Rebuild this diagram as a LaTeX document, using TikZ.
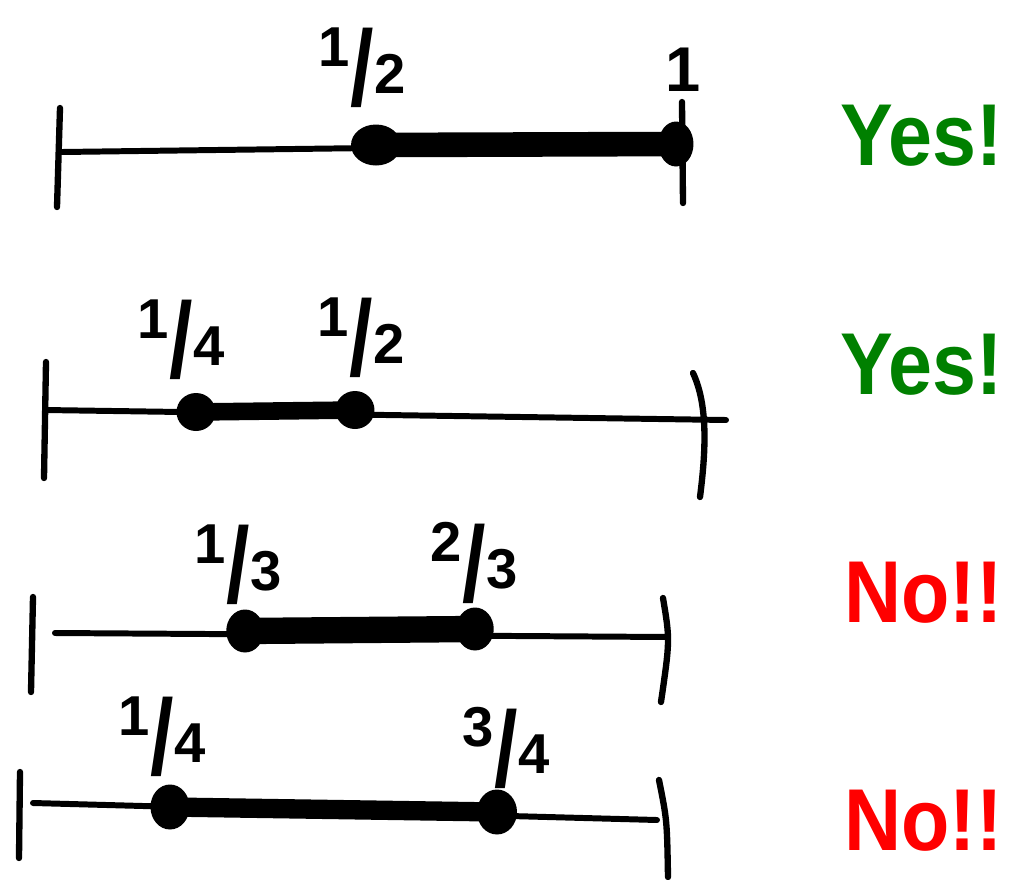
\documentclass[tikz,border=0pt]{standalone}
\usepackage{graphicx}
\usepackage{fontspec}
\setmainfont{Liberation Sans}
\usepackage{tikz}
\usetikzlibrary{shapes.geometric, positioning}
\definecolor{cYes}{RGB}{0,128,0}
\definecolor{cNo}{RGB}{255,0,0}
\newcommand{\slfrac}[2]{\raisebox{0.42em}{#1}\kern0.01em\raisebox{-0.28em}{\scalebox{1.5}[1.9]{/}}\kern0.01em\raisebox{-0.05em}{#2}}
\tikzset{
	axis/.style     ={line width=3.4pt, line cap=round},
	tickmark/.style ={line width=3.6pt, line cap=round},
	span/.style     ={line width=#1, line cap=round},
	dotpt/.style 2 args={ellipse, fill=black, inner sep=0pt, minimum width=#1, minimum height=#2},
	frac/.style     ={font=\bfseries\fontsize{32}{36}\selectfont, inner sep=0pt},
	verdict/.style  ={font=\bfseries\fontsize{50}{56}\selectfont, anchor=base east, inner sep=0pt},
}

\begin{document}
\begin{tikzpicture}[x=0.02cm, y=-0.02cm]
	\useasboundingbox (0,0) rectangle (1009,880);
	% row 1: from 1/2 to 1
	\coordinate (a1) at (62,152);
	\coordinate (b1) at (680,144);
	\draw[tickmark] (60,108) -- (57,207);
	\draw[tickmark] (682,102) -- (683,203);
	\draw[axis] (a1) -- (b1);
	\node[dotpt={1.0cm}{0.82cm}] (p1) at (376,145) {};
	\node[dotpt={0.7cm}{0.9cm}] (q1) at (676,144) {};
	\draw[span=14pt] (p1.center) -- (q1.center);
	\node[frac] (l1p) at (362,68) {\slfrac{1}{2}};
	\node[frac, font=\bfseries\fontsize{36}{40}\selectfont] (l1q) at (683,70) {1};
	\node[verdict, text=cYes] (v1) at (1003,165) {\scalebox{0.9}[1]{Yes!}};
	% row 2: from 1/4 to 1/2
	\coordinate (a2) at (45,410);
	\coordinate (b2) at (726,420);
	\draw[tickmark] (46,362) -- (44,478);
	\draw[tickmark] (693,373) .. controls (708,405) and (706,450) .. (700,497);
	\draw[axis] (a2) -- (b2);
	\node[dotpt={0.78cm}{0.76cm}] (p2) at (196,412) {};
	\node[dotpt={0.78cm}{0.76cm}] (q2) at (355,410) {};
	\draw[span=10pt] (p2.center) -- (q2.center);
	\node[frac] (l2p) at (181,340) {\slfrac{1}{4}};
	\node[frac] (l2q) at (361,338) {\slfrac{1}{2}};
	\node[verdict, text=cYes] (v2) at (1003,394) {\scalebox{0.9}[1]{Yes!}};
	% row 3: from 1/3 to 2/3
	\coordinate (a3) at (55,633);
	\coordinate (b3) at (668,637);
	\draw[tickmark] (33,597) -- (31,692);
	\draw[tickmark] (663,598) .. controls (670,640) .. (661,702);
	\draw[axis] (a3) -- (b3);
	\node[dotpt={0.75cm}{0.86cm}] (p3) at (245,631) {};
	\node[dotpt={0.75cm}{0.86cm}] (q3) at (475,629) {};
	\draw[span=15pt] (p3.center) -- (q3.center);
	\node[frac] (l3p) at (238,565) {\slfrac{1}{3}};
	\node[frac] (l3q) at (474,563) {\slfrac{2}{3}};
	\node[verdict, text=cNo] (v3) at (1003,622) {\scalebox{0.9}[1]{No!!}};
	% row 4: from 1/4 to 3/4
	\coordinate (a4) at (33,803);
	\coordinate (b4) at (657,820);
	\draw[tickmark] (20,772) -- (19,858);
	\draw[tickmark] (659,780) .. controls (667,820) .. (668,877);
	\draw[axis] (a4) -- (b4);
	\node[dotpt={0.78cm}{0.9cm}] (p4) at (170,807) {};
	\node[dotpt={0.8cm}{0.9cm}] (q4) at (497,812) {};
	\draw[span=11pt] (p4.center) -- (q4.center);
	\node[frac] (l4p) at (162,737) {\slfrac{1}{4}};
	\node[frac] (l4q) at (506,748) {\slfrac{3}{4}};
	\node[verdict, text=cNo] (v4) at (1003,850) {\scalebox{0.9}[1]{No!!}};
\end{tikzpicture}
\end{document}
